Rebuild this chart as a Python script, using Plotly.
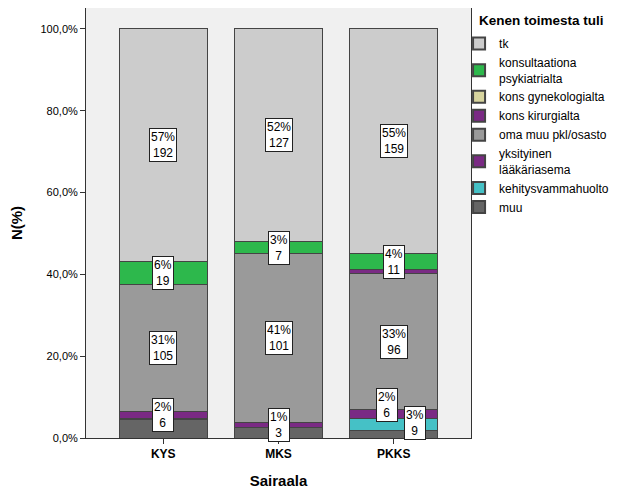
import plotly.graph_objects as go

hospitals = ["KYS", "MKS", "PKKS"]
# series, bottom of stack first
series = ["muu", "kehitysvammahuolto", "yksityinen<br>lääkäriasema", "oma muu pkl/osasto",
          "kons kirurgialta", "kons gynekologialta", "konsultaationa<br>psykiatrialta", "tk"]
counts_muu = [15, 6, 5]
counts_kehitys = [1, 0, 9]
counts_yksityinen = [6, 3, 6]
counts_oma = [105, 101, 96]
counts_kirurgia = [0, 0, 3]
counts_gyne = [0, 0, 0]
counts_psyk = [19, 7, 11]
counts_tk = [192, 127, 159]
colors = ["#656565", "#45c1c6", "#7a2a84", "#9a9a9a", "#7a2a84", "#d7d49e", "#2db84c", "#cccccc"]

# which segments carry a label box (series index, hospital index, xshift, yshift)
labeled = [(7, 0, 0, 0), (6, 0, 0, 0), (3, 0, 0, 0), (2, 0, 0, 0),
           (7, 1, 0, 0), (6, 1, 0, 0), (3, 1, 0, 0), (2, 1, 0, 0),
           (7, 2, 0, 0), (6, 2, 0, 0), (3, 2, 0, 0), (2, 2, -7, 9), (1, 2, 21, 2)]

yticks = [0, 20, 40, 60, 80, 100]
yticklabels = ["0,0%", "20,0%", "40,0%", "60,0%", "80,0%", "100,0%"]

all_counts = [counts_muu, counts_kehitys, counts_yksityinen, counts_oma,
              counts_kirurgia, counts_gyne, counts_psyk, counts_tk]
totals = [sum(c[i] for c in all_counts) for i in range(len(hospitals))]
pcts = [[c[i] / totals[i] * 100 for i in range(len(hospitals))] for c in all_counts]

FONT = "Arial, Liberation Sans, sans-serif"

fig = go.Figure()
for s, name in enumerate(series):
    fig.add_trace(go.Bar(
        x=hospitals, y=pcts[s], name=name,
        marker=dict(color=colors[s], line=dict(color="#444444", width=1)),
        width=0.76,
    ))

annotations = []
for s, h, dx, dy in labeled:
    base = sum(pcts[k][h] for k in range(s))
    mid = base + pcts[s][h] / 2
    annotations.append(dict(
        x=hospitals[h], y=mid, xref="x", yref="y",
        text=f"{round(pcts[s][h])}%<br>{all_counts[s][h]}",
        showarrow=False, xshift=dx, yshift=dy,
        font=dict(family=FONT, size=12, color="black"),
        bgcolor="white", bordercolor="#222222", borderwidth=1, borderpad=1,
    ))

annotations.append(dict(
    x=1.0156, y=0.972, xref="paper", yref="paper", text="<b>Kenen toimesta tuli</b>",
    showarrow=False, xanchor="left", yanchor="middle",
    font=dict(family=FONT, size=13.5, color="black"),
))

fig.update_layout(
    width=629, height=504,
    margin=dict(l=78, r=166, t=0, b=74, autoexpand=False),
    barmode="stack",
    paper_bgcolor="white", plot_bgcolor="#f0f0f0",
    font=dict(family=FONT, size=11, color="black"),
    annotations=annotations,
    legend=dict(
        traceorder="reversed", x=0.969, xanchor="left",
        y=0.951, yanchor="top",
        font=dict(size=12), tracegroupgap=0, itemsizing="constant",
        bgcolor="rgba(0,0,0,0)",
    ),
    xaxis=dict(
        range=[-0.67, 2.67], showline=True, linecolor="#333333", mirror=True,
        ticks="outside", ticklen=5, tickcolor="#333333", automargin=False,
        tickfont=dict(size=12),
        title=dict(text="<b>Sairaala</b>", font=dict(size=15), standoff=15),
        tickprefix="<b>", ticksuffix="</b>",
    ),
    yaxis=dict(
        range=[0, 105.1], tickvals=yticks, ticktext=yticklabels, automargin=False,
        showline=True, linecolor="#333333", mirror=True, showgrid=False, zeroline=False,
        ticks="outside", ticklen=5, tickcolor="#333333",
        title=dict(text="<b>N(%)</b>", font=dict(size=15), standoff=18),
    ),
)

fig.write_html("out.html")
